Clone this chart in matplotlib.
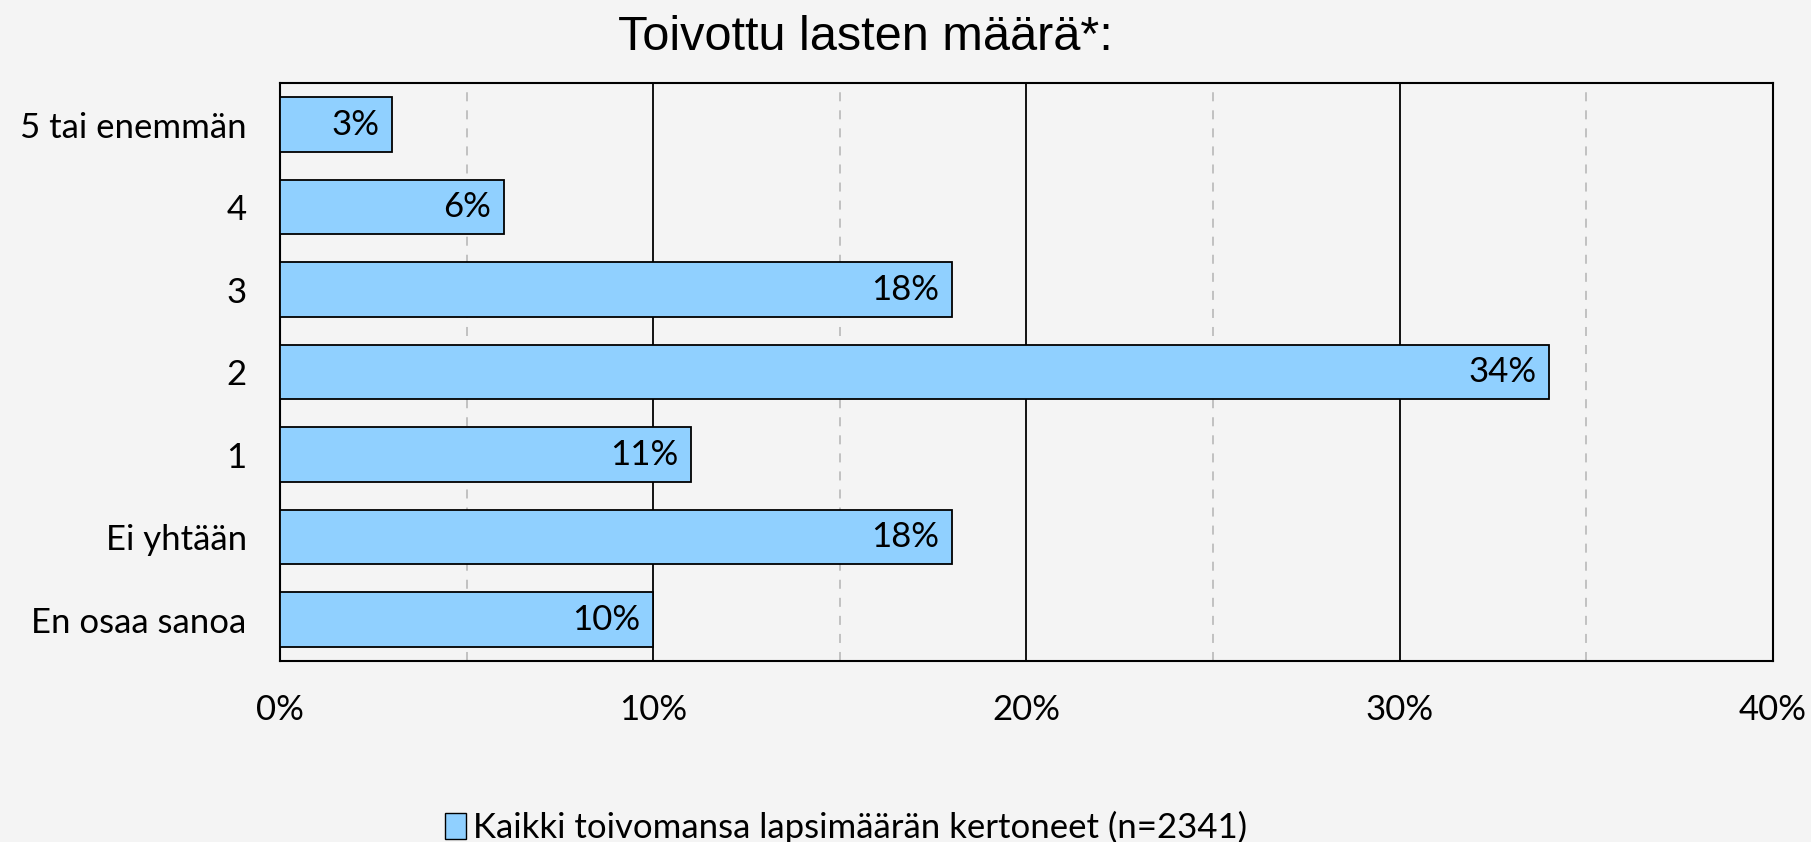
import matplotlib
matplotlib.use("Agg")
import matplotlib.pyplot as plt
from matplotlib.patches import Patch

CATEGORIES = ["En osaa sanoa", "Ei yhtään", "1", "2", "3", "4", "5 tai enemmän"]
VALUES = [10, 18, 11, 34, 18, 6, 3]
XTICKS = [0, 10, 20, 30, 40]
MINOR = [5, 15, 25, 35]
SERIES = "Kaikki toivomansa lapsimäärän kertoneet (n=2341)"
TITLE = "Toivottu lasten määrä*:"

BG = "#f4f4f4"
BAR = "#90d0ff"
FONT = "Lato"

fig = plt.figure(figsize=(18.11, 8.42), dpi=100, facecolor=BG)
ax = fig.add_axes([0.1546, 0.215, 0.8244, 0.686], facecolor=BG)

y = range(len(CATEGORIES))
ax.barh(y, VALUES, height=0.66, color=BAR, edgecolor="black", lw=1.3, zorder=3)
for yi, v in zip(y, VALUES):
    ax.annotate(f"{v}%", (v, yi), xytext=(-9, 0), textcoords="offset points",
                ha="right", va="center", fontsize=25, family=FONT, zorder=4)

for x in XTICKS[1:-1]:
    ax.axvline(x, color="black", lw=1.3, zorder=1)
for x in MINOR:
    ax.axvline(x, color="#bdbdbd", lw=1.3, ls=(0, (5, 5)), zorder=1)

ax.set_xlim(0, 40)
ax.set_ylim(-0.5, len(CATEGORIES) - 0.5)
ax.set_xticks(XTICKS)
ax.set_xticklabels([f"{x}%" for x in XTICKS], fontsize=25, family=FONT)
ax.set_yticks(list(y))
ax.set_yticklabels(CATEGORIES, fontsize=25, family=FONT)
ax.tick_params(length=0)
ax.tick_params(axis="x", pad=24)
ax.tick_params(axis="y", pad=24)
for s in ax.spines.values():
    s.set_linewidth(1.5)

fig.text(0.478, 0.956, TITLE, ha="center", va="center", fontsize=35,
         family="Liberation Sans")

fig.legend(handles=[Patch(facecolor=BAR, edgecolor="black", lw=1.0)], labels=[SERIES],
           loc="center", bbox_to_anchor=(0.467, 0.017), frameon=False,
           prop=dict(family=FONT, size=25), handlelength=0.6, handleheight=0.8,
           handletextpad=0.2)

fig.savefig("out.png", facecolor=BG)
